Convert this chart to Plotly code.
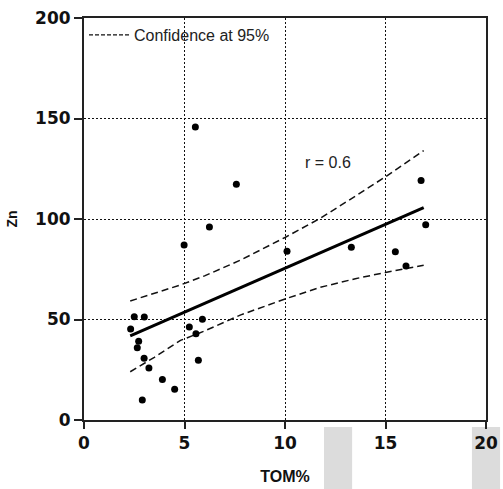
import plotly.graph_objects as go

# Observed points (TOM%, Zn)
tom = [2.50, 3.00, 2.32, 2.72, 2.65, 2.99, 3.23, 3.90, 4.51, 2.90,
       5.89, 5.24, 5.57, 5.69, 5.54, 7.58, 6.24, 4.98, 10.1,
       16.77, 17.0, 13.3, 15.49, 16.02]
zn = [51.4, 51.2, 45.3, 39.2, 36.0, 30.7, 25.9, 20.1, 15.3, 10.0,
      50.1, 46.3, 42.9, 29.7, 145.8, 117.3, 96.0, 87.1, 83.9,
      119.1, 97.2, 85.9, 83.7, 76.6]

# Regression line
fit_x = [2.3, 16.9]
fit_y = [41.8, 105.6]

# 95% confidence band
band_x = [2.3, 3.5, 4.8, 6.0, 7.8, 10.0, 11.75, 13.5, 15.0, 16.9]
band_upper = [59.2, 63.0, 67.2, 71.7, 79.6, 90.8, 100.3, 111.4, 121.0, 134.0]
band_lower = [24.0, 31.2, 39.6, 44.3, 52.3, 60.2, 66.0, 70.3, 73.4, 77.0]

x_ticks = [0, 5, 10, 15, 20]
y_ticks = [0, 50, 100, 150, 200]

AX = "#222222"
TICKFONT = dict(family="DejaVu Sans", size=17, color="#111111", weight="bold")
TITLEFONT = dict(family="Liberation Sans, Arial", size=16, color="#111111", weight="bold")

fig = go.Figure()
fig.add_trace(go.Scatter(x=band_x, y=band_upper, mode="lines", showlegend=False,
                         line=dict(color="#111111", width=1.5, dash="7px,4px")))
fig.add_trace(go.Scatter(x=band_x, y=band_lower, mode="lines", showlegend=False,
                         line=dict(color="#111111", width=1.5, dash="7px,4px")))
fig.add_trace(go.Scatter(x=fit_x, y=fit_y, mode="lines", showlegend=False,
                         line=dict(color="#000000", width=3)))
fig.add_trace(go.Scatter(x=tom, y=zn, mode="markers", showlegend=False,
                         marker=dict(color="#000000", size=7)))
fig.add_trace(go.Scatter(x=[None], y=[None], mode="lines", name="Confidence at 95%",
                         line=dict(color="#111111", width=1.3, dash="4px,2px")))

fig.add_annotation(x=12.14, y=127.9, text="r = 0.6", showarrow=False,
                   font=dict(family="Liberation Sans, Arial", size=16, color="#222222"))

# grey blocks present in the reference image
for x0, x1 in [(0.597, 0.667), (0.965, 1.035)]:
    fig.add_shape(type="rect", xref="paper", yref="paper", x0=x0, x1=x1,
                  y0=-0.1716, y1=-0.0174, fillcolor="#dcdcdc", line_width=0,
                  layer="below")

fig.update_xaxes(range=[0, 20], tickvals=x_ticks, showgrid=True, gridcolor="#111111",
                 gridwidth=1.3, griddash="2px,2px", zeroline=False, automargin=False,
                 showline=True, linecolor=AX, linewidth=2, mirror=True,
                 ticks="outside", ticklen=7, tickwidth=2, tickcolor=AX,
                 tickfont=TICKFONT,
                 title=dict(text="TOM%", font=TITLEFONT, standoff=18))
fig.update_yaxes(range=[0, 200], tickvals=y_ticks, showgrid=True, gridcolor="#111111",
                 gridwidth=1.3, griddash="2px,2px", zeroline=False, automargin=False,
                 showline=True, linecolor=AX, linewidth=2, mirror=True,
                 ticks="outside", ticklen=8, tickwidth=2, tickcolor=AX,
                 tickfont=TICKFONT,
                 title=dict(text="Zn", font=dict(family="Liberation Sans, Arial", size=14,
                                                  color="#111111", weight="bold"), standoff=14))

fig.update_layout(
    width=503, height=489,
    margin=dict(l=84, r=17, t=18, b=69, autoexpand=False),
    paper_bgcolor="white", plot_bgcolor="rgba(0,0,0,0)",
    legend=dict(x=0.0, y=1.0, xanchor="left", yanchor="top",
                bgcolor="rgba(0,0,0,0)", itemwidth=40,
                font=dict(family="Liberation Sans, Arial", size=16, color="#222222")),
)

fig.write_html("out.html", config={"displayModeBar": False},
               post_script="document.body.style.margin='0';document.body.style.overflow='hidden';")
